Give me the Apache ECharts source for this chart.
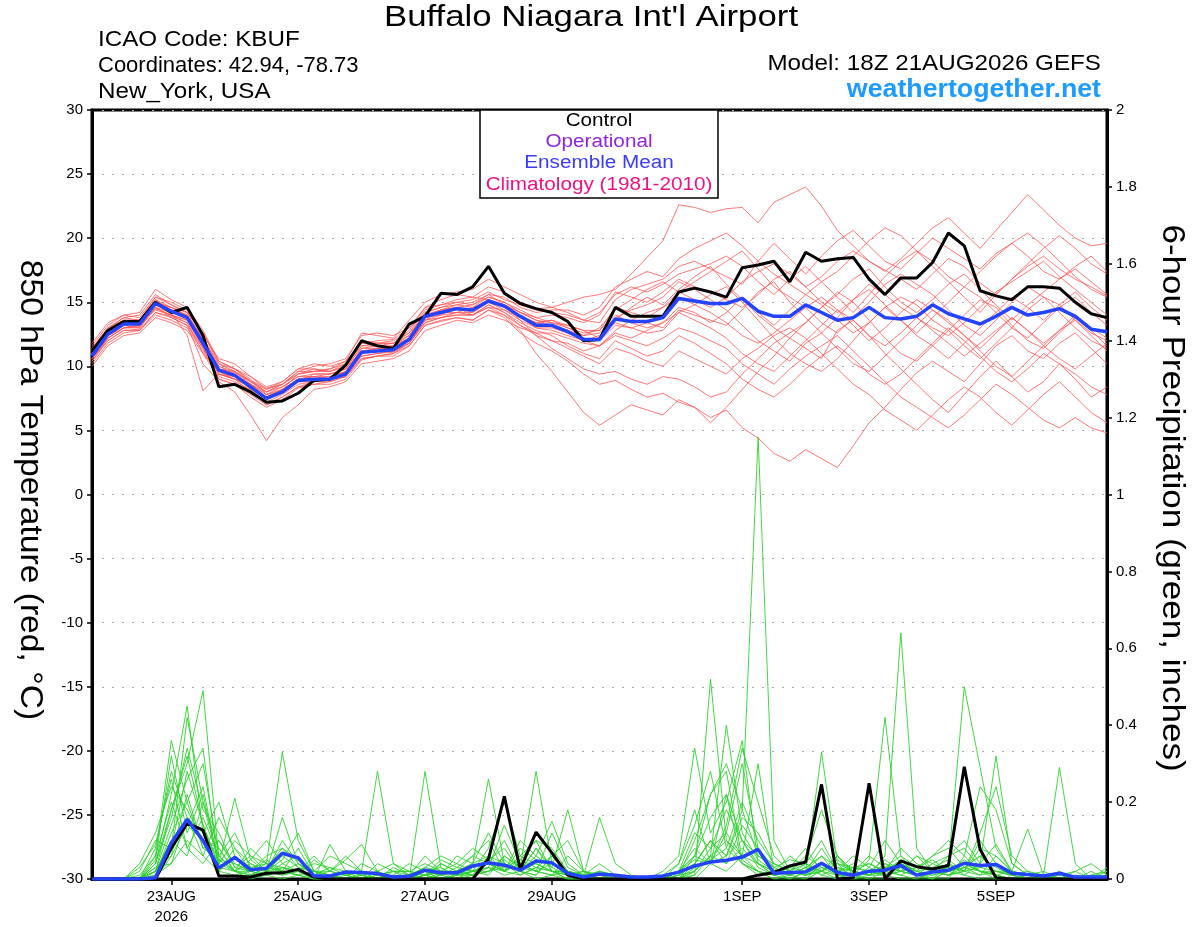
<!DOCTYPE html>
<html>
<head>
<meta charset="utf-8">
<script src="https://cdn.jsdelivr.net/npm/echarts@6.0.0/dist/echarts.min.js"></script>
<style>
  html, body { margin: 0; padding: 0; background: #fff; }
  #chart { width: 1200px; height: 927px; }
</style>
</head>
<body>
<div id="chart"></div>
<script>
// GEFS 18Z 21AUG2026, KBUF: 6-hourly steps from 21AUG 18Z to 06SEP 18Z (65 steps)
const startTime = Date.UTC(2026, 7, 21, 18);
const stepHours = 6;
const stepCount = 65;

// x-axis tick positions (step index) and their labels
const tickIndex = [5, 13, 21, 29, 41, 49, 57];
const tickText = ['23AUG\n2026', '25AUG', '27AUG', '29AUG', '1SEP', '3SEP', '5SEP'];

// 850 hPa temperature (degC) - control and ensemble mean
const tempControl = [
  11.2, 12.8, 13.5, 13.5, 15.0, 14.2, 14.6, 12.4, 8.4, 8.6, 8.0, 7.2, 7.3,
  7.9, 8.9, 9.0, 10.1, 12.0, 11.6, 11.4, 13.3, 13.9, 15.7, 15.6, 16.2, 17.8,
  15.7, 14.9, 14.5, 14.2, 13.5, 12.0, 12.1, 14.6, 13.9, 13.9, 13.9, 15.8, 16.1,
  15.8, 15.4, 17.7, 17.9, 18.2, 16.6, 18.9, 18.2, 18.4, 18.5, 16.8, 15.6, 16.9,
  16.9, 18.1, 20.4, 19.4, 15.9, 15.5, 15.2, 16.2, 16.2, 16.1, 15.0, 14.1, 13.8
];
const tempMean = [
  10.8, 12.5, 13.3, 13.3, 14.9, 14.3, 13.8, 11.8, 9.7, 9.3, 8.4, 7.5, 8.0,
  8.9, 9.0, 9.0, 9.4, 11.1, 11.2, 11.3, 12.1, 13.9, 14.2, 14.5, 14.4, 15.1,
  14.7, 13.9, 13.2, 13.2, 12.7, 12.1, 12.1, 13.7, 13.5, 13.5, 13.8, 15.3, 15.1,
  14.9, 14.9, 15.3, 14.3, 13.9, 13.9, 14.8, 14.2, 13.6, 13.8, 14.6, 13.8, 13.7,
  13.9, 14.8, 14.1, 13.7, 13.3, 13.9, 14.6, 14.0, 14.2, 14.5, 13.9, 12.9, 12.7
];

// 850 hPa temperature - ensemble members
const t01 = [
  11.0, 12.9, 13.8, 14.0, 15.6, 14.8, 14.2, 12.6, 10.2, 9.6, 8.9, 8.3, 8.6,
  9.4, 9.8, 9.6, 10.2, 11.8, 12.0, 12.1, 13.0, 14.6, 15.2, 15.6, 15.4, 16.2,
  15.8, 15.0, 14.5, 14.6, 15.0, 15.4, 15.6, 16.0, 17.2, 18.5, 19.8, 22.6, 22.4,
  22.0, 22.3, 22.4, 21.2, 22.8, 23.4, 24.0, 22.5, 20.6, 19.4, 18.2, 17.5, 16.8,
  16.0, 17.2, 18.4, 17.8, 16.5, 15.6, 16.8, 17.8, 18.6, 17.6, 16.8, 16.2, 15.5
];
const t02 = [
  10.4, 12.0, 12.8, 12.9, 14.2, 13.9, 13.4, 11.0, 9.0, 8.6, 7.6, 6.8, 7.4,
  8.3, 8.6, 8.6, 9.0, 10.5, 10.8, 10.8, 11.6, 13.2, 13.5, 13.8, 13.6, 14.4,
  13.8, 12.6, 11.8, 11.2, 10.4, 9.4, 8.6, 8.9, 8.2, 7.6, 7.9, 7.2, 6.8,
  6.0, 6.6, 5.2, 4.4, 3.2, 2.6, 3.5, 2.8, 2.1, 3.8, 5.6, 6.8, 8.2,
  9.5, 10.4, 9.6, 8.8, 10.2, 11.6, 12.4, 11.2, 10.6, 11.8, 12.6, 11.4, 10.2
];
const t03 = [
  10.6, 12.2, 13.0, 13.1, 14.5, 14.0, 13.6, 11.5, 9.4, 9.0, 8.0, 7.2, 7.8,
  8.6, 8.8, 8.8, 9.2, 10.8, 11.0, 11.1, 11.8, 13.4, 13.8, 14.0, 14.0, 14.6,
  14.0, 12.8, 11.0, 9.6, 8.0, 6.4, 5.4, 6.2, 7.0, 6.6, 6.2, 7.4, 6.8,
  5.6, 6.8, 8.2, 9.6, 10.8, 12.2, 11.4, 10.6, 12.8, 13.6, 12.4, 11.0, 9.8,
  8.6, 7.4, 6.4, 7.8, 9.2, 10.4, 9.2, 8.0, 8.8, 10.2, 9.0, 7.6, 8.4
];
const t04 = [
  11.2, 12.6, 13.4, 13.2, 14.8, 14.6, 13.9, 12.0, 9.8, 9.5, 8.8, 8.0, 8.4,
  9.2, 9.2, 9.0, 9.6, 11.4, 11.6, 11.6, 12.4, 14.2, 14.6, 14.8, 15.0, 15.6,
  14.8, 13.6, 12.4, 11.4, 10.6, 9.8, 9.4, 9.6, 9.0, 8.6, 9.2, 9.0, 8.4,
  7.6, 8.0, 9.4, 10.6, 11.8, 12.6, 13.4, 14.6, 15.8, 15.0, 13.6, 12.2, 11.0,
  10.4, 11.6, 12.8, 14.0, 15.2, 14.6, 13.2, 12.0, 11.4, 12.6, 13.8, 12.8, 11.6
];
const t05 = [
  11.6, 13.2, 14.0, 14.2, 16.0, 15.2, 14.6, 12.8, 10.4, 9.8, 9.0, 7.8, 8.2,
  9.4, 9.6, 9.8, 10.4, 12.6, 12.4, 12.2, 13.6, 15.0, 15.6, 15.8, 16.0, 16.8,
  16.2, 15.6, 15.0, 14.6, 14.2, 13.6, 13.4, 15.2, 16.0, 16.4, 16.8, 17.8, 18.2,
  17.6, 17.0, 16.4, 18.2, 19.6, 18.4, 17.2, 18.6, 19.8, 20.6, 19.4, 18.2, 17.6,
  18.8, 20.0, 19.2, 18.4, 17.6, 18.8, 19.6, 18.6, 17.4, 16.8, 17.8, 18.6, 17.4
];
const t06 = [
  10.2, 11.8, 12.6, 12.8, 14.0, 13.6, 13.0, 11.2, 9.2, 8.8, 8.2, 7.4, 7.9,
  8.8, 9.4, 9.4, 9.8, 11.2, 11.2, 11.6, 12.2, 13.8, 14.0, 14.6, 14.2, 15.0,
  14.6, 13.8, 13.4, 13.6, 13.0, 12.4, 12.6, 13.8, 14.4, 14.8, 15.4, 16.6, 16.0,
  15.2, 14.4, 13.2, 12.0, 11.2, 10.4, 11.8, 12.6, 11.4, 10.2, 9.6, 10.8, 12.0,
  13.2, 14.4, 13.6, 12.4, 11.2, 10.0, 9.2, 10.4, 11.6, 12.8, 13.6, 12.4, 11.2
];
const t07 = [
  11.4, 13.0, 13.6, 13.6, 15.2, 14.4, 14.0, 12.2, 10.0, 9.4, 8.6, 7.6, 8.0,
  9.0, 9.2, 9.2, 9.6, 11.0, 11.4, 11.4, 12.0, 13.6, 14.4, 14.6, 14.8, 15.4,
  15.0, 14.4, 13.8, 13.4, 13.0, 12.6, 12.8, 14.6, 14.2, 13.8, 14.6, 15.8, 16.6,
  17.4, 18.2, 19.0, 17.6, 16.2, 15.4, 14.6, 13.4, 12.6, 13.8, 15.0, 16.4, 17.2,
  16.4, 15.6, 14.4, 13.2, 12.4, 13.6, 15.0, 16.2, 15.4, 14.2, 13.0, 12.0, 11.4
];
const t08 = [
  10.6, 12.4, 13.2, 13.0, 14.6, 13.8, 13.2, 10.2, 8.8, 8.0, 6.2, 4.2, 6.0,
  7.0, 8.2, 8.4, 8.8, 10.2, 10.4, 10.6, 11.2, 12.8, 13.2, 13.6, 13.4, 14.0,
  13.6, 13.0, 12.6, 12.0, 11.8, 11.2, 11.6, 12.4, 12.0, 11.6, 12.2, 13.0, 12.6,
  12.0, 11.4, 10.2, 9.4, 8.6, 9.8, 10.8, 11.6, 12.4, 11.2, 10.0, 8.8, 7.6,
  6.8, 6.0, 5.2, 6.2, 7.4, 8.6, 7.8, 6.8, 5.8, 5.2, 6.0, 5.2, 4.8
];
const t09 = [
  11.8, 13.4, 14.0, 13.8, 15.4, 15.0, 14.4, 12.4, 10.6, 10.2, 9.2, 8.4, 8.8,
  9.8, 9.8, 9.6, 10.0, 12.0, 11.8, 11.8, 12.8, 14.6, 14.8, 15.0, 15.2, 15.8,
  15.2, 14.8, 14.4, 14.2, 14.0, 13.6, 14.2, 15.6, 16.2, 15.8, 16.4, 17.2, 17.6,
  18.0, 18.6, 17.8, 16.6, 15.6, 16.8, 17.8, 16.6, 15.4, 14.2, 15.6, 17.0, 18.2,
  19.0, 18.2, 17.0, 16.2, 17.4, 18.6, 19.6, 20.4, 19.4, 18.2, 17.0, 16.0, 15.4
];
const t10 = [
  11.0, 12.8, 13.6, 13.4, 14.8, 14.2, 12.4, 8.1, 9.4, 9.2, 8.6, 7.8, 8.0,
  9.0, 9.2, 9.4, 9.8, 11.6, 11.8, 11.8, 12.6, 14.0, 14.2, 14.2, 14.6, 15.0,
  14.4, 13.6, 13.0, 13.0, 12.6, 12.2, 12.0, 13.2, 13.0, 12.6, 12.8, 14.2, 14.8,
  15.6, 16.2, 15.0, 13.6, 12.2, 11.0, 10.2, 9.6, 10.6, 12.0, 13.4, 14.6, 13.6,
  12.4, 11.6, 10.6, 11.8, 13.0, 14.2, 15.4, 14.6, 13.6, 14.8, 15.8, 14.6, 13.6
];
const t11 = [
  10.0, 11.6, 12.4, 12.6, 13.8, 13.4, 12.8, 11.0, 9.6, 9.0, 8.6, 8.0, 8.6,
  9.6, 10.0, 10.2, 10.6, 12.4, 12.6, 12.4, 13.0, 14.0, 14.4, 14.6, 14.0, 14.8,
  14.2, 13.4, 12.8, 12.4, 11.6, 11.0, 10.6, 12.0, 11.4, 10.8, 11.2, 12.4, 11.8,
  11.0, 10.2, 9.0, 8.2, 7.6, 8.6, 9.8, 10.8, 11.6, 10.6, 9.4, 8.6, 9.4,
  10.6, 11.8, 13.0, 12.0, 10.8, 9.6, 8.8, 9.8, 11.0, 10.2, 9.4, 8.4, 7.8
];
const t12 = [
  11.2, 12.6, 13.2, 13.4, 15.0, 14.6, 14.2, 12.0, 9.6, 9.2, 8.2, 7.0, 7.6,
  8.4, 8.6, 8.8, 9.2, 10.6, 10.8, 11.0, 11.8, 13.6, 14.0, 14.2, 14.2, 15.0,
  14.8, 14.2, 13.8, 14.0, 13.8, 13.4, 14.0, 15.8, 15.4, 15.0, 15.8, 16.8, 16.2,
  15.8, 15.2, 14.6, 15.6, 16.8, 17.4, 16.2, 15.0, 14.2, 15.2, 16.4, 15.6, 14.6,
  13.8, 13.0, 12.4, 13.4, 14.6, 15.8, 16.6, 17.4, 18.2, 17.0, 16.0, 15.0, 14.0
];
const t13 = [
  10.8, 12.4, 13.0, 13.2, 14.4, 14.0, 13.6, 11.6, 9.4, 9.0, 8.4, 7.6, 8.2,
  9.0, 9.0, 9.2, 9.6, 10.8, 11.0, 11.2, 11.8, 13.4, 13.8, 14.2, 14.0, 14.6,
  14.4, 13.8, 13.0, 12.8, 12.4, 12.0, 12.4, 13.4, 13.0, 13.4, 13.0, 14.4, 14.0,
  13.6, 13.2, 14.4, 15.8, 16.6, 15.0, 13.8, 12.6, 13.8, 15.2, 16.0, 14.8, 13.6,
  12.6, 13.8, 15.0, 16.2, 15.4, 14.2, 13.0, 12.2, 13.4, 14.6, 15.4, 14.2, 13.2
];
const t14 = [
  11.4, 13.0, 13.8, 13.6, 15.2, 14.6, 14.0, 11.8, 9.8, 9.6, 8.8, 8.2, 8.8,
  9.8, 10.2, 10.0, 10.4, 11.8, 11.8, 12.0, 12.6, 14.4, 14.8, 15.2, 15.4, 15.2,
  14.6, 13.8, 13.4, 13.6, 13.2, 12.8, 12.2, 13.6, 14.6, 15.4, 14.8, 16.0, 17.0,
  17.8, 16.4, 15.2, 14.0, 13.0, 12.2, 13.4, 14.6, 15.6, 16.8, 17.6, 16.2, 15.0,
  14.2, 15.2, 16.4, 17.2, 16.0, 14.8, 13.6, 14.8, 15.8, 16.8, 17.6, 16.6, 15.6
];
const t15 = [
  10.4, 12.2, 13.0, 13.0, 14.6, 14.2, 13.8, 12.0, 10.0, 9.6, 8.6, 7.8, 8.4,
  9.2, 9.4, 9.4, 9.8, 11.2, 11.4, 11.6, 12.2, 13.8, 14.2, 14.6, 14.4, 15.2,
  14.8, 14.2, 13.6, 13.4, 13.2, 12.8, 12.8, 14.0, 13.4, 13.0, 13.4, 14.6, 14.2,
  13.4, 14.2, 15.4, 14.2, 13.2, 14.4, 15.6, 14.8, 13.6, 12.6, 13.4, 14.6, 15.4,
  14.8, 13.6, 12.8, 11.6, 10.6, 11.8, 13.0, 14.4, 15.4, 14.8, 13.6, 12.6, 12.0
];
const t16 = [
  11.0, 12.6, 13.4, 13.6, 15.0, 14.4, 13.8, 12.2, 10.2, 9.8, 8.8, 8.0, 8.6,
  9.4, 9.6, 9.8, 10.2, 11.6, 11.6, 11.8, 12.4, 14.0, 14.4, 14.8, 14.6, 15.4,
  15.0, 14.2, 13.6, 13.2, 12.8, 12.4, 13.0, 14.4, 15.2, 16.0, 16.6, 15.8, 15.2,
  14.6, 15.4, 16.6, 17.4, 18.0, 17.2, 16.2, 17.0, 18.2, 19.0, 18.2, 17.4, 18.4,
  19.6, 20.8, 21.6, 20.4, 19.2, 20.6, 22.0, 23.4, 22.2, 21.0, 20.0, 19.4, 19.6
];
const t17 = [
  10.6, 12.0, 12.8, 12.8, 14.2, 13.8, 13.2, 11.4, 9.4, 9.0, 8.4, 7.6, 8.2,
  8.8, 8.8, 9.0, 9.4, 11.0, 11.2, 11.2, 11.8, 13.6, 13.8, 14.0, 14.0, 14.8,
  14.2, 13.2, 12.4, 12.0, 11.4, 10.8, 10.2, 11.4, 11.0, 10.4, 10.0, 11.2, 10.6,
  10.0, 9.4, 10.6, 11.4, 12.4, 13.0, 12.2, 11.0, 9.8, 8.6, 7.8, 6.6, 5.8,
  5.0, 6.2, 7.4, 8.4, 7.6, 6.4, 5.4, 6.6, 7.8, 8.8, 7.6, 6.4, 5.6
];
const t18 = [
  11.2, 12.8, 13.6, 13.6, 15.4, 14.8, 14.2, 12.6, 10.4, 9.8, 9.2, 8.2, 8.6,
  9.6, 9.6, 9.6, 10.0, 11.4, 11.4, 11.4, 12.2, 14.2, 14.6, 15.0, 14.8, 15.6,
  15.4, 14.6, 14.2, 14.4, 14.4, 14.0, 14.6, 16.2, 16.8, 17.4, 17.0, 18.4, 19.2,
  19.8, 20.4, 19.4, 18.2, 17.2, 16.4, 15.6, 16.6, 17.4, 18.6, 19.8, 20.8, 20.2,
  19.0, 17.8, 16.6, 15.4, 14.2, 15.6, 16.8, 18.0, 19.2, 20.2, 19.2, 18.0, 17.2
];
const t19 = [
  10.8, 12.2, 13.0, 13.2, 14.6, 14.0, 13.4, 11.4, 9.0, 8.6, 7.8, 7.0, 7.6,
  8.4, 8.8, 9.0, 9.2, 10.6, 10.8, 11.0, 11.6, 13.2, 13.6, 13.8, 13.6, 14.4,
  14.0, 13.2, 12.6, 12.6, 12.2, 11.8, 11.6, 12.6, 12.2, 12.8, 13.4, 14.2, 13.6,
  13.0, 12.2, 11.0, 10.2, 9.6, 10.8, 12.0, 13.2, 14.4, 13.6, 12.4, 11.6, 12.6,
  13.8, 12.8, 11.8, 10.8, 11.8, 12.8, 13.8, 12.8, 11.6, 10.6, 9.8, 10.8, 11.8
];
const t20 = [
  11.0, 12.4, 13.2, 13.4, 14.8, 14.4, 14.0, 11.8, 9.6, 9.2, 8.4, 7.6, 8.2,
  9.0, 9.0, 9.0, 9.4, 11.2, 11.2, 11.4, 12.2, 13.8, 14.2, 14.4, 14.4, 15.2,
  14.6, 14.0, 13.4, 13.2, 12.8, 12.0, 11.6, 12.8, 13.6, 14.2, 14.6, 15.4, 14.8,
  14.2, 13.4, 12.4, 11.8, 12.6, 13.6, 14.6, 15.4, 14.4, 13.2, 12.0, 13.0, 14.2,
  15.2, 14.4, 13.4, 12.4, 11.4, 12.6, 13.8, 12.8, 11.8, 12.8, 14.0, 13.0, 12.2
];
const tempMembers = [t01, t02, t03, t04, t05, t06, t07, t08, t09, t10,
  t11, t12, t13, t14, t15, t16, t17, t18, t19, t20];

// 6-hour precipitation (inches) - control and ensemble mean
const precControl = [
  0, 0, 0, 0, 0, 0.08, 0.145, 0.127, 0.008, 0.008, 0.005, 0.015, 0.016,
  0.025, 0.005, 0, 0, 0, 0, 0, 0, 0, 0, 0, 0, 0.052,
  0.215, 0.025, 0.122, 0.068, 0.01, 0, 0, 0, 0, 0, 0, 0, 0,
  0, 0, 0, 0.01, 0.017, 0.034, 0.044, 0.246, 0, 0.003, 0.249, 0, 0.047,
  0.032, 0.026, 0.035, 0.292, 0.077, 0.003, 0, 0, 0, 0, 0, 0, 0
];
const precMean = [
  0, 0, 0, 0, 0.003, 0.094, 0.155, 0.10, 0.029, 0.056, 0.024, 0.028, 0.067,
  0.055, 0.008, 0.008, 0.018, 0.017, 0.014, 0.005, 0.007, 0.023, 0.016, 0.016, 0.034, 0.042,
  0.036, 0.023, 0.047, 0.042, 0.015, 0.005, 0.013, 0.01, 0.005, 0.005, 0.008, 0.018, 0.034,
  0.044, 0.049, 0.057, 0.077, 0.015, 0.017, 0.018, 0.041, 0.017, 0.01, 0.02, 0.023, 0.035,
  0.01, 0.018, 0.023, 0.041, 0.035, 0.038, 0.015, 0.012, 0.008, 0.015, 0.005, 0.005, 0.005
];

// 6-hour precipitation - ensemble members
const p01 = [0, 0, 0, 0, 0.02, 0.18, 0.30, 0.49, 0.05, 0.02, 0, 0.01, 0.03, 0.02, 0,
  0, 0, 0, 0, 0, 0, 0.02, 0, 0, 0.03, 0.05, 0.08, 0.02, 0, 0.01,
  0, 0, 0, 0, 0, 0, 0, 0, 0.02, 0.08, 0.12, 0.30, 0.08, 0.02, 0,
  0, 0.04, 0.01, 0, 0, 0.02, 0.05, 0.01, 0, 0, 0.06, 0.02, 0, 0, 0,
  0.01, 0, 0, 0, 0];
const p02 = [0, 0, 0, 0, 0.04, 0.22, 0.45, 0.12, 0.02, 0.06, 0.03, 0.01, 0, 0.01, 0,
  0, 0, 0.01, 0, 0, 0, 0, 0.01, 0.02, 0.04, 0.26, 0.04, 0.01, 0.03, 0.02,
  0, 0, 0, 0, 0, 0, 0, 0.01, 0.04, 0.10, 0.06, 0.18, 1.15, 0.10, 0.02,
  0.01, 0.02, 0, 0, 0.03, 0.01, 0, 0, 0.02, 0.04, 0.01, 0, 0, 0, 0,
  0, 0, 0, 0, 0];
const p03 = [0, 0, 0, 0, 0.06, 0.36, 0.20, 0.08, 0.10, 0.04, 0.02, 0.05, 0.02, 0.04, 0.01,
  0, 0, 0, 0, 0.03, 0.01, 0, 0.04, 0.02, 0.01, 0.02, 0.06, 0.03, 0.28, 0.04,
  0.02, 0, 0, 0, 0, 0, 0, 0, 0.01, 0.52, 0.10, 0.04, 0.02, 0, 0.01,
  0, 0.02, 0.06, 0.01, 0, 0, 0.03, 0.02, 0, 0.04, 0.02, 0.10, 0.04, 0, 0,
  0, 0, 0.01, 0, 0];
const p04 = [0, 0, 0, 0.02, 0.10, 0.08, 0.28, 0.14, 0.04, 0.21, 0.05, 0.02, 0.06, 0.03, 0,
  0.09, 0.02, 0, 0, 0, 0, 0.28, 0.03, 0, 0.01, 0.02, 0.04, 0.02, 0.06, 0.03,
  0.18, 0.02, 0, 0, 0, 0, 0, 0, 0.06, 0.22, 0.28, 0.05, 0.02, 0, 0,
  0.02, 0.33, 0.04, 0, 0.01, 0.02, 0.01, 0, 0, 0.02, 0.05, 0.02, 0.01, 0, 0,
  0, 0.02, 0, 0, 0];
const p05 = [0, 0, 0, 0, 0.01, 0.12, 0.20, 0.30, 0.06, 0.02, 0.08, 0.04, 0.33, 0.10, 0.02,
  0, 0, 0.01, 0.02, 0, 0, 0.01, 0.05, 0.03, 0.06, 0.10, 0.02, 0.06, 0.04, 0.02,
  0, 0, 0.02, 0.01, 0, 0, 0, 0, 0, 0.04, 0.14, 0.34, 0.20, 0.06, 0.02,
  0.01, 0.04, 0.02, 0.01, 0.05, 0.42, 0.06, 0.01, 0, 0.02, 0.03, 0.01, 0.06, 0.02, 0,
  0, 0.01, 0, 0, 0];
const p06 = [0, 0, 0, 0, 0.08, 0.28, 0.16, 0.06, 0.02, 0.08, 0.02, 0.01, 0.02, 0.08, 0.01,
  0, 0.01, 0.02, 0.28, 0.04, 0.02, 0.01, 0.02, 0.01, 0.03, 0.04, 0.10, 0.02, 0.01, 0.06,
  0.02, 0.01, 0.16, 0.04, 0.01, 0, 0, 0.02, 0.08, 0.04, 0.02, 0.06, 0.04, 0.01, 0.03,
  0.08, 0.02, 0.04, 0.02, 0.01, 0.06, 0.64, 0.08, 0.02, 0.01, 0.04, 0.02, 0.01, 0, 0.01,
  0, 0, 0, 0.02, 0];
const p07 = [0, 0, 0, 0, 0.04, 0.16, 0.34, 0.18, 0.12, 0.03, 0.06, 0.02, 0.10, 0.04, 0.01,
  0, 0.02, 0.01, 0, 0, 0.01, 0.06, 0.02, 0.04, 0.08, 0.05, 0.02, 0.10, 0.06, 0.15,
  0.04, 0.01, 0, 0, 0, 0, 0.02, 0.06, 0.34, 0.12, 0.20, 0.36, 0.04, 0.02, 0.06,
  0.03, 0.01, 0, 0.02, 0.01, 0.04, 0.02, 0.06, 0.02, 0.04, 0.50, 0.29, 0.08, 0.02, 0.01,
  0, 0, 0, 0.01, 0];
const p08 = [0, 0, 0, 0, 0.02, 0.10, 0.14, 0.24, 0.03, 0.06, 0.01, 0.03, 0.02, 0.01, 0.05,
  0.02, 0.06, 0.02, 0, 0.01, 0, 0.02, 0.01, 0, 0.02, 0.08, 0.20, 0.06, 0.10, 0.08,
  0.02, 0, 0.01, 0, 0, 0, 0, 0, 0.02, 0.06, 0.10, 0.06, 0.30, 0.02, 0.01,
  0.04, 0.10, 0.02, 0.01, 0.02, 0.03, 0.04, 0.02, 0.06, 0.10, 0.06, 0.24, 0.18, 0.04, 0.01,
  0.02, 0, 0, 0, 0.02];
const p09 = [0, 0, 0, 0.04, 0.12, 0.24, 0.18, 0.10, 0.08, 0.02, 0.04, 0.02, 0.05, 0.12, 0.02,
  0.01, 0, 0, 0.04, 0.02, 0, 0.01, 0, 0.02, 0.01, 0.03, 0.02, 0.04, 0.02, 0.01,
  0.06, 0.02, 0.01, 0, 0, 0, 0.01, 0.04, 0.14, 0.28, 0.08, 0.04, 0.02, 0.01, 0,
  0.02, 0.06, 0.03, 0.02, 0.06, 0.03, 0.02, 0.01, 0.04, 0.06, 0.10, 0.04, 0.32, 0.04, 0.01,
  0.01, 0, 0, 0, 0];
const p10 = [0, 0, 0, 0, 0.05, 0.32, 0.12, 0.22, 0.04, 0.10, 0.06, 0.04, 0.03, 0.02, 0,
  0.01, 0, 0, 0.01, 0.02, 0.02, 0.04, 0.02, 0.01, 0.02, 0.03, 0.14, 0.04, 0.02, 0.12,
  0.03, 0.01, 0, 0, 0, 0, 0, 0.02, 0.06, 0.04, 0.22, 0.10, 0.03, 0.01, 0.02,
  0.05, 0.18, 0.06, 0.02, 0.01, 0.02, 0.08, 0.04, 0.02, 0.01, 0.02, 0.08, 0.06, 0.02, 0.13,
  0.01, 0.29, 0.04, 0, 0];
const p11 = [0, 0, 0, 0, 0, 0.06, 0.22, 0.08, 0.05, 0.04, 0.02, 0.06, 0.08, 0.03, 0.02,
  0.06, 0.04, 0.02, 0.01, 0, 0.01, 0.03, 0.06, 0.04, 0.02, 0.04, 0.02, 0.08, 0.05, 0.04,
  0.01, 0, 0, 0, 0, 0, 0, 0, 0.04, 0.10, 0.04, 0.08, 0.04, 0.02, 0.01,
  0.03, 0.06, 0.01, 0, 0.02, 0.01, 0.04, 0.02, 0.01, 0.02, 0.04, 0.02, 0.02, 0.01, 0,
  0, 0, 0.01, 0, 0.01];
const p12 = [0, 0, 0, 0, 0.02, 0.14, 0.26, 0.34, 0.02, 0.01, 0.02, 0.01, 0.04, 0.06, 0.01,
  0.02, 0.05, 0.09, 0.02, 0, 0, 0, 0.01, 0.06, 0.04, 0.06, 0.04, 0.02, 0.08, 0.02,
  0.01, 0.02, 0.01, 0, 0, 0, 0, 0.01, 0.02, 0.06, 0.40, 0.12, 0.05, 0.02, 0.01,
  0.02, 0.04, 0.02, 0.06, 0.03, 0.10, 0.04, 0.01, 0.02, 0.06, 0.08, 0.03, 0.04, 0.02, 0.01,
  0, 0, 0, 0, 0];
const p13 = [0, 0, 0, 0.01, 0.06, 0.20, 0.08, 0.16, 0.06, 0.12, 0.03, 0.02, 0.01, 0.02, 0.06,
  0.02, 0.01, 0, 0, 0.01, 0.04, 0.02, 0.01, 0.03, 0.02, 0.01, 0.06, 0.03, 0.02, 0.04,
  0.02, 0.01, 0.04, 0.01, 0, 0, 0, 0.01, 0.10, 0.22, 0.30, 0.18, 0.06, 0.04, 0.02,
  0.06, 0.03, 0.01, 0.01, 0.02, 0.03, 0.06, 0.03, 0.02, 0.01, 0.03, 0.02, 0.01, 0.02, 0.01,
  0, 0, 0, 0, 0.01];
const p14 = [0, 0, 0, 0, 0.03, 0.04, 0.10, 0.06, 0.16, 0.08, 0.04, 0.02, 0.16, 0.04, 0.02,
  0.01, 0.02, 0, 0, 0.02, 0.01, 0.02, 0.01, 0.02, 0.04, 0.12, 0.04, 0.02, 0.01, 0.06,
  0.10, 0.02, 0, 0, 0, 0, 0, 0.04, 0.18, 0.04, 0.06, 0.10, 0.06, 0.03, 0.05,
  0.04, 0.02, 0.05, 0.02, 0.04, 0.02, 0.01, 0.03, 0.05, 0.02, 0.01, 0.04, 0.09, 0.02, 0.01,
  0, 0, 0, 0, 0];
const p15 = [0, 0, 0, 0, 0.01, 0.04, 0.16, 0.12, 0.20, 0.06, 0.03, 0.04, 0.02, 0.01, 0,
  0, 0, 0, 0, 0, 0, 0.01, 0, 0.01, 0.02, 0.03, 0.01, 0.02, 0.04, 0.02,
  0.02, 0, 0, 0, 0, 0, 0, 0, 0.03, 0.05, 0.08, 0.20, 0.10, 0.04, 0.02,
  0.01, 0.02, 0.04, 0.03, 0.02, 0.01, 0.02, 0.06, 0.04, 0.02, 0.03, 0.06, 0.03, 0.01, 0,
  0, 0, 0.02, 0, 0];
const p16 = [0, 0, 0, 0, 0.02, 0.10, 0.06, 0.20, 0.08, 0.02, 0.01, 0.02, 0.03, 0.02, 0.04,
  0.03, 0.01, 0.02, 0.01, 0, 0, 0.02, 0.03, 0.01, 0.01, 0.02, 0.03, 0.05, 0.03, 0.02,
  0.02, 0.01, 0.02, 0.01, 0, 0, 0, 0.02, 0.05, 0.04, 0.12, 0.06, 0.02, 0.01, 0.02,
  0.01, 0.03, 0.02, 0.04, 0.01, 0.01, 0.02, 0.01, 0.02, 0.03, 0.02, 0.12, 0.24, 0.06, 0.02,
  0.01, 0, 0, 0.01, 0.02];
const p17 = [0, 0, 0, 0, 0.02, 0.08, 0.42, 0.20, 0.04, 0.02, 0.01, 0.03, 0.02, 0.01, 0.02,
  0.01, 0, 0.04, 0.02, 0, 0.01, 0.03, 0.02, 0.02, 0.06, 0.04, 0.02, 0.01, 0.03, 0.06,
  0.01, 0, 0.02, 0, 0, 0, 0.01, 0.02, 0.06, 0.16, 0.22, 0.04, 0.01, 0.02, 0.03,
  0.02, 0.08, 0.02, 0.03, 0.04, 0.02, 0.03, 0.01, 0.02, 0.01, 0.02, 0.01, 0.02, 0.01, 0.02,
  0, 0.01, 0.02, 0.04, 0.01];
const p18 = [0, 0, 0, 0, 0.03, 0.06, 0.14, 0.10, 0.06, 0.02, 0.05, 0.10, 0.04, 0.02, 0.01,
  0, 0, 0, 0.01, 0.02, 0.02, 0.01, 0.04, 0.02, 0.01, 0.06, 0.02, 0.04, 0.02, 0.01,
  0.02, 0, 0, 0, 0, 0, 0, 0, 0.01, 0.06, 0.04, 0.14, 0.08, 0.03, 0.01,
  0.03, 0.02, 0.06, 0.02, 0.01, 0.04, 0.02, 0.03, 0.06, 0.08, 0.03, 0.06, 0.02, 0.02, 0,
  0, 0, 0, 0, 0];
const p19 = [0, 0, 0, 0, 0.04, 0.18, 0.32, 0.14, 0.03, 0.02, 0.02, 0.03, 0.08, 0.05, 0.02,
  0.02, 0.01, 0, 0.02, 0.04, 0.01, 0.02, 0, 0.01, 0.02, 0.02, 0.05, 0.02, 0.08, 0.03,
  0.01, 0, 0, 0, 0, 0, 0, 0.02, 0.12, 0.08, 0.18, 0.10, 0.04, 0.01, 0.02,
  0.01, 0.02, 0.01, 0.03, 0.02, 0.05, 0.02, 0.01, 0.01, 0.03, 0.04, 0.02, 0.01, 0, 0,
  0.01, 0, 0, 0, 0];
const p20 = [0, 0, 0, 0.03, 0.09, 0.26, 0.08, 0.04, 0.10, 0.03, 0.02, 0.04, 0.01, 0.02, 0.01,
  0.03, 0.02, 0.01, 0, 0, 0, 0.01, 0.02, 0.01, 0.02, 0.04, 0.02, 0.05, 0.10, 0.02,
  0.01, 0.02, 0, 0, 0, 0, 0, 0.01, 0.04, 0.10, 0.06, 0.16, 0.12, 0.04, 0.02,
  0.04, 0.01, 0.03, 0.01, 0.02, 0.02, 0.04, 0.02, 0.03, 0.05, 0.02, 0.03, 0.02, 0.01, 0,
  0, 0, 0, 0, 0.03];
const precMembers = [p01, p02, p03, p04, p05, p06, p07, p08, p09, p10,
  p11, p12, p13, p14, p15, p16, p17, p18, p19, p20];

const FONT = '"Liberation Sans", Arial, Helvetica, sans-serif';
const BLUE = '#2343ff';

// 6-hourly time stamps for the category axis
const categories = [];
for (let i = 0; i < stepCount; i++) {
  const d = new Date(startTime + i * stepHours * 3600 * 1000);
  categories.push(d.toISOString().slice(0, 13) + 'Z');
}

const myChart = echarts.init(document.getElementById('chart'), null, { renderer: 'canvas' });

const series = [];
// precipitation members (green, right axis)
precMembers.forEach((d, k) => {
  series.push({
    name: 'prec' + (k + 1),
    type: 'line',
    yAxisIndex: 1,
    data: d,
    symbol: 'none',
    silent: true,
    z: 1,
    lineStyle: { color: '#2fd12f', width: 0.9 },
  });
});
// temperature members (red, left axis)
tempMembers.forEach((d, k) => {
  series.push({
    name: 'temp' + (k + 1),
    type: 'line',
    yAxisIndex: 0,
    data: d,
    symbol: 'none',
    silent: true,
    z: 2,
    lineStyle: { color: '#ff5555', width: 0.8 },
  });
});
series.push(
  { name: 'precControl', type: 'line', yAxisIndex: 1, data: precControl, symbol: 'none', z: 3,
    lineStyle: { color: '#000', width: 3 } },
  { name: 'precMean', type: 'line', yAxisIndex: 1, data: precMean, symbol: 'none', z: 4,
    lineStyle: { color: BLUE, width: 3.5 } },
  { name: 'tempControl', type: 'line', yAxisIndex: 0, data: tempControl, symbol: 'none', z: 3,
    lineStyle: { color: '#000', width: 3 } },
  { name: 'tempMean', type: 'line', yAxisIndex: 0, data: tempMean, symbol: 'none', z: 4,
    lineStyle: { color: BLUE, width: 3.5 } }
);

const tickShown = (idx) => tickIndex.indexOf(idx) !== -1;

// small helper for header / legend / axis-title texts
function label(text, x, y, size, color, align, scaleX, extra) {
  return Object.assign({
    type: 'text', x: x, y: y, z: 101, scaleX: scaleX || 1,
    style: { text: text, font: size + 'px ' + FONT, fill: color, align: align, verticalAlign: 'middle' },
  }, extra || {});
}

const option = {
  animation: false,
  backgroundColor: '#fff',
  textStyle: { fontFamily: FONT },
  grid: {
    left: 92, top: 110, width: 1015, height: 773,
    show: true, borderColor: '#000', borderWidth: 3, backgroundColor: 'transparent',
  },
  xAxis: {
    type: 'category',
    data: categories,
    boundaryGap: false,
    axisLine: { show: true, onZero: false, lineStyle: { color: '#000', width: 3 } },
    axisTick: { show: true, interval: tickShown, length: 6, lineStyle: { color: '#000', width: 1.5 } },
    axisLabel: {
      interval: tickShown,
      formatter: (val, idx) => tickText[tickIndex.indexOf(idx)],
      color: '#000', fontSize: 15, lineHeight: 20, margin: 8, fontFamily: FONT,
    },
    splitLine: { show: false },
  },
  yAxis: [
    {
      type: 'value',
      min: -30, max: 30, interval: 5,
      position: 'left',
      axisLine: { show: true, lineStyle: { color: '#000', width: 3 } },
      axisTick: { show: true, length: 5, lineStyle: { color: '#000', width: 1.5 } },
      axisLabel: { color: '#000', fontSize: 15, margin: 9, fontFamily: FONT },
      splitLine: { show: true, lineStyle: { color: '#a8a8a8', width: 1.2, type: [2, 8] } },
    },
    {
      type: 'value',
      min: 0, max: 2, interval: 0.2,
      position: 'right',
      axisLine: { show: true, lineStyle: { color: '#000', width: 3 } },
      axisTick: { show: true, length: 5, lineStyle: { color: '#000', width: 1.5 } },
      axisLabel: { color: '#000', fontSize: 15, margin: 9, fontFamily: FONT },
      splitLine: { show: false },
    },
  ],
  graphic: [
    label("Buffalo Niagara Int'l Airport", 591, 18, 30, '#000', 'center', 1.16),
    label('ICAO Code: KBUF', 98, 40, 22, '#000', 'left', 1.1),
    label('Coordinates: 42.94, -78.73', 98, 66, 22, '#000', 'left', 1.0),
    label('New_York, USA', 98, 92, 22, '#000', 'left', 1.1),
    label('Model: 18Z 21AUG2026 GEFS', 1101, 64, 22, '#000', 'right', 1.1),
    label('weathertogether.net', 1101, 90, 'bold 25', '#1e9bff', 'right', 1.07),
    // axis titles, both read top to bottom
    label('850 hPa Temperature (red, °C)', 30, 490, 31, '#000', 'center', 1.085, { rotation: -Math.PI / 2 }),
    label('6-hour Precipitation (green, inches)', 1172, 498, 31, '#000', 'center', 1.13, { rotation: -Math.PI / 2 }),
    // legend box
    { type: 'rect', z: 100, shape: { x: 480, y: 110, width: 238, height: 88 },
      style: { fill: '#fff', stroke: '#000', lineWidth: 1.5 } },
    label('Control', 599, 121, 18, '#000', 'center', 1.15),
    label('Operational', 599, 142, 18, '#8e24e0', 'center', 1.15),
    label('Ensemble Mean', 599, 163, 18, '#3a3aff', 'center', 1.15),
    label('Climatology (1981-2010)', 599, 185, 18, '#ec1385', 'center', 1.15),
  ],
  series: series,
};

myChart.setOption(option);
window.addEventListener('resize', myChart.resize);
</script>
</body>
</html>
